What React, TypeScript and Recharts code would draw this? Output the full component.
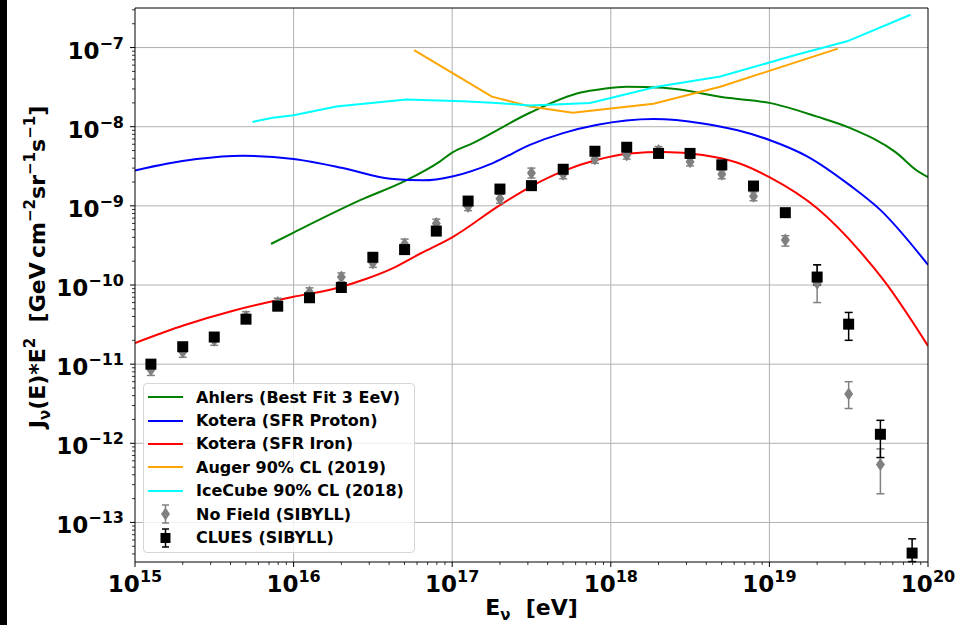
import React from "react";
import {
  ComposedChart,
  Line,
  Scatter,
  ErrorBar,
  XAxis,
  YAxis,
  ReferenceLine,
  Legend,
} from "recharts";

// ---- model curves and limits (energy in eV, J*E^2 in GeV cm^-2 sr^-1 s^-1) ----
const ahlersEnergy = [7.2e15, 1.0e16, 2.63e16, 5.13e16, 8.3e16, 1.0e17, 1.35e17, 3.09e17, 6.46e17, 8.9e17, 1.26e18, 2.14e18, 5.6e18, 1.0e19, 2.0e19, 3.24e19, 6.3e19, 8.5e19, 1.0e20];
const ahlersFlux = [3.3e-10, 4.6e-10, 1.18e-9, 2.1e-9, 3.6e-9, 4.7e-9, 6.2e-9, 1.5e-8, 2.7e-8, 3.0e-8, 3.2e-8, 3.1e-8, 2.3e-8, 2.0e-8, 1.34e-8, 9.6e-9, 4.7e-9, 2.8e-9, 2.3e-9];

const protonEnergy = [1.0e15, 1.58e15, 2.45e15, 4.8e15, 1.0e16, 2.04e16, 4.07e16, 6.6e16, 1.0e17, 1.82e17, 3.09e17, 5.0e17, 8.1e17, 1.86e18, 3.8e18, 6.3e18, 1.0e19, 1.74e19, 3.24e19, 5.0e19, 1.0e20];
const protonFlux = [2.8e-9, 3.4e-9, 3.9e-9, 4.3e-9, 3.9e-9, 3.0e-9, 2.2e-9, 2.1e-9, 2.35e-9, 3.5e-9, 5.9e-9, 8.3e-9, 1.05e-8, 1.25e-8, 1.1e-8, 9.0e-9, 6.8e-9, 4.2e-9, 1.8e-9, 8.9e-10, 1.8e-10];

const ironEnergy = [1.0e15, 2.04e15, 4.27e15, 1.0e16, 1.78e16, 2.88e16, 4.27e16, 6.3e16, 1.0e17, 2.0e17, 3.09e17, 5.0e17, 8.1e17, 1.32e18, 2.14e18, 3.8e18, 6.3e18, 1.0e19, 2.0e19, 3.7e19, 5.25e19, 1.0e20];
const ironFlux = [1.85e-11, 3.1e-11, 4.8e-11, 7.1e-11, 8.9e-11, 1.2e-10, 1.65e-10, 2.5e-10, 4.0e-10, 1.02e-9, 1.73e-9, 2.75e-9, 3.8e-9, 4.6e-9, 4.8e-9, 4.4e-9, 3.5e-9, 2.3e-9, 9.3e-10, 2.7e-10, 1.15e-10, 1.7e-11];

const augerEnergy = [5.75e16, 1.0e17, 1.78e17, 3.09e17, 5.75e17, 1.86e18, 4.9e18, 2.7e19];
const augerFlux = [9.3e-8, 4.8e-8, 2.4e-8, 1.8e-8, 1.5e-8, 1.95e-8, 3.2e-8, 9.7e-8];

const icecubeEnergy = [5.5e15, 7.4e15, 1.0e16, 1.86e16, 5.13e16, 1.17e17, 1.9e17, 3.09e17, 7.4e17, 1.95e18, 4.9e18, 1.48e19, 3.09e19, 7.76e19];
const icecubeFlux = [1.15e-8, 1.3e-8, 1.4e-8, 1.8e-8, 2.2e-8, 2.1e-8, 2.0e-8, 1.85e-8, 2.0e-8, 3.2e-8, 4.3e-8, 8.1e-8, 1.2e-7, 2.6e-7];

// ---- simulated points ----
const binEnergy = [1.26e15, 2.0e15, 3.16e15, 5.01e15, 7.94e15, 1.26e16, 2.0e16, 3.16e16, 5.01e16, 7.94e16, 1.26e17, 2.0e17, 3.16e17, 5.01e17, 7.94e17, 1.26e18, 2.0e18, 3.16e18, 5.01e18, 7.94e18, 1.26e19, 2.0e19, 3.16e19, 5.01e19, 7.94e19];

const cluesFlux = [1.0e-11, 1.66e-11, 2.2e-11, 3.7e-11, 5.4e-11, 6.9e-11, 9.3e-11, 2.24e-10, 2.8e-10, 4.8e-10, 1.15e-9, 1.63e-9, 1.8e-9, 2.9e-9, 4.9e-9, 5.5e-9, 4.6e-9, 4.6e-9, 3.3e-9, 1.78e-9, 8.2e-10, 1.26e-10, 3.2e-11, 1.3e-12, 4.1e-14];
const cluesHigh = [1.1e-11, 1.8e-11, 2.4e-11, 4.0e-11, 5.8e-11, 7.4e-11, 1.0e-10, 2.4e-10, 3.0e-10, 5.2e-10, 1.24e-9, 1.75e-9, 1.93e-9, 3.1e-9, 5.2e-9, 5.8e-9, 4.85e-9, 4.85e-9, 3.5e-9, 1.9e-9, 8.9e-10, 1.8e-10, 4.5e-11, 1.95e-12, 6.2e-14];
const cluesLow = [0.92e-11, 1.54e-11, 2.05e-11, 3.45e-11, 5.0e-11, 6.4e-11, 8.6e-11, 2.08e-10, 2.6e-10, 4.45e-10, 1.07e-9, 1.52e-9, 1.68e-9, 2.7e-9, 4.6e-9, 5.2e-9, 4.35e-9, 4.35e-9, 3.1e-9, 1.66e-9, 7.6e-10, 1.0e-10, 2.0e-11, 6.6e-13, 3.2e-14];

const noFieldFlux = [8.5e-12, 1.42e-11, 2.0e-11, 4.0e-11, 6.0e-11, 8.1e-11, 1.26e-10, 1.9e-10, 3.3e-10, 6.0e-10, 9.8e-10, 1.23e-9, 2.6e-9, 2.5e-9, 3.9e-9, 4.4e-9, 5.0e-9, 3.6e-9, 2.5e-9, 1.32e-9, 3.7e-10, 1.05e-10, 4.2e-12, 5.4e-13];
const noFieldHigh = [1.0e-11, 1.65e-11, 2.3e-11, 4.6e-11, 6.8e-11, 9.2e-11, 1.42e-10, 2.15e-10, 3.8e-10, 6.8e-10, 1.1e-9, 1.4e-9, 3.0e-9, 2.85e-9, 4.4e-9, 4.9e-9, 5.6e-9, 4.0e-9, 2.8e-9, 1.5e-9, 4.2e-10, 1.8e-10, 6.0e-12, 8.5e-13];
const noFieldLow = [0.72e-11, 1.22e-11, 1.73e-11, 3.5e-11, 5.3e-11, 7.1e-11, 1.1e-10, 1.67e-10, 2.9e-10, 5.3e-10, 8.7e-10, 1.08e-9, 2.25e-9, 2.2e-9, 3.45e-9, 3.9e-9, 4.45e-9, 3.2e-9, 2.2e-9, 1.16e-9, 3.1e-10, 6.0e-11, 2.75e-12, 2.3e-13];

// ---- axes ----
const xDecades = [15, 16, 17, 18, 19, 20];
const yDecades = [-13, -12, -11, -10, -9, -8, -7];
const X_DOMAIN = [1e15, 1e20];
const Y_DOMAIN = [10 ** -13.5, 10 ** -6.5];

const logTicks = (lo: number, hi: number) => {
  const out: number[] = [];
  for (let d = Math.floor(Math.log10(lo)); d <= Math.ceil(Math.log10(hi)); d++) {
    for (let m = 1; m < 10; m++) {
      const v = m * 10 ** d;
      if (v >= lo * 0.9999 && v <= hi * 1.0001) out.push(v);
    }
  }
  return out;
};
const xTicks = logTicks(X_DOMAIN[0], X_DOMAIN[1]);
const yTicks = logTicks(Y_DOMAIN[0], Y_DOMAIN[1]);

const toCurve = (es: number[], fs: number[]) => es.map((x, i) => ({ x, y: fs[i] }));
const toPoints = (vals: number[], lo: number[], hi: number[]) =>
  vals.map((y, i) => ({ x: binEnergy[i], y, err: [y - lo[i], hi[i] - y] }));

const cluesData = toPoints(cluesFlux, cluesLow, cluesHigh);
const noFieldData = toPoints(noFieldFlux, noFieldLow, noFieldHigh);

const FONT = "'DejaVu Sans', sans-serif";
const tickFont = { fontFamily: FONT, fontWeight: 700, fontSize: 23, fill: "#000" };

const isMajor = (v: number) => {
  const e = Math.round(Math.log10(v));
  return { e, major: Math.abs(v / 10 ** e - 1) < 1e-6 };
};

const XTick = ({ x, y, payload }: any) => {
  const { e, major } = isMajor(payload.value);
  return (
    <g>
      <line x1={x} x2={x} y1={y} y2={y + (major ? 5 : 3)} stroke="#000" strokeWidth={major ? 1 : 0.8} />
      {major && (
        <text x={x} y={y + 30} textAnchor="middle" style={tickFont}>
          10<tspan dy={-10} fontSize={16}>{e}</tspan>
        </text>
      )}
    </g>
  );
};

const YTick = ({ x, y, payload }: any) => {
  const { e, major } = isMajor(payload.value);
  return (
    <g>
      <line x1={x - (major ? 5 : 3)} x2={x} y1={y} y2={y} stroke="#000" strokeWidth={major ? 1 : 0.8} />
      {major && (
        <text x={x - 11} y={y + 11} textAnchor="end" style={tickFont}>
          10<tspan dy={-10} fontSize={16}>{"\u2212" + Math.abs(e)}</tspan>
        </text>
      )}
    </g>
  );
};

const YTitle = () => (
  <text transform="translate(45, 267) rotate(-90)" textAnchor="middle" style={{ ...tickFont, fontSize: 22 }}>
    J<tspan dy={5} fontSize={15}>ν</tspan>
    <tspan dy={-5}>(E)*E</tspan>
    <tspan dy={-10} fontSize={15}>2</tspan>
    <tspan dy={10}>{"\u00a0\u00a0[GeV\u2009cm"}</tspan>
    <tspan dy={-10} fontSize={15}>−2</tspan>
    <tspan dy={10}>sr</tspan>
    <tspan dy={-10} fontSize={15}>−1</tspan>
    <tspan dy={10}>s</tspan>
    <tspan dy={-10} fontSize={15}>−1</tspan>
    <tspan dy={10}>]</tspan>
  </text>
);

const XTitle = () => (
  <text x={531.5} y={615} textAnchor="middle" style={{ ...tickFont, fontSize: 22 }}>
    E<tspan dy={5} fontSize={15}>ν</tspan>
    <tspan dy={-5}>{"\u00a0\u00a0[eV]"}</tspan>
  </text>
);

const squareShape = (p: any) => <rect x={p.cx - 5.5} y={p.cy - 5.5} width={11} height={11} fill="#000" />;
const diamondShape = (p: any) => (
  <path d={`M${p.cx},${p.cy - 6.5}L${p.cx + 4.5},${p.cy}L${p.cx},${p.cy + 6.5}L${p.cx - 4.5},${p.cy}Z`} fill="#808080" />
);

const curves = [
  { name: "Ahlers (Best Fit 3 EeV)", color: "#008000", data: toCurve(ahlersEnergy, ahlersFlux), type: "monotone" },
  { name: "Kotera (SFR Proton)", color: "#0000ff", data: toCurve(protonEnergy, protonFlux), type: "monotone" },
  { name: "Kotera (SFR Iron)", color: "#ff0000", data: toCurve(ironEnergy, ironFlux), type: "monotone" },
  { name: "Auger 90% CL (2019)", color: "#ffa500", data: toCurve(augerEnergy, augerFlux), type: "linear" },
  { name: "IceCube 90% CL (2018)", color: "#00ffff", data: toCurve(icecubeEnergy, icecubeFlux), type: "linear" },
];

const LegendBox = () => (
  <div
    style={{
      width: 272,
      height: 170,
      boxSizing: "border-box",
      background: "rgba(255,255,255,0.8)",
      border: "1px solid #d6d6d6",
      borderRadius: 4,
      paddingTop: 1.5,
      fontFamily: FONT,
      fontWeight: 700,
      fontSize: 16,
      color: "#000",
    }}
  >
    {curves.map((c) => (
      <div key={c.name} style={{ display: "flex", alignItems: "center", height: 23.4 }}>
        <svg width={52} height={20} style={{ flex: "none" }}>
          <line x1={4} x2={39} y1={10} y2={10} stroke={c.color} strokeWidth={2} />
        </svg>
        <span style={{ whiteSpace: "nowrap" }}>{c.name}</span>
      </div>
    ))}
    <div style={{ display: "flex", alignItems: "center", height: 23.4 }}>
      <svg width={52} height={22} style={{ flex: "none" }}>
        <line x1={21.5} x2={21.5} y1={2} y2={20} stroke="#808080" strokeWidth={1.5} />
        <line x1={18} x2={25} y1={2} y2={2} stroke="#808080" strokeWidth={1.5} />
        <line x1={18} x2={25} y1={20} y2={20} stroke="#808080" strokeWidth={1.5} />
        <path d="M21.5,4.5L26,11L21.5,17.5L17,11Z" fill="#808080" />
      </svg>
      <span>No Field (SIBYLL)</span>
    </div>
    <div style={{ display: "flex", alignItems: "center", height: 23.4 }}>
      <svg width={52} height={22} style={{ flex: "none" }}>
        <line x1={21.5} x2={21.5} y1={2} y2={20} stroke="#000" strokeWidth={1.5} />
        <line x1={18} x2={25} y1={2} y2={2} stroke="#000" strokeWidth={1.5} />
        <line x1={18} x2={25} y1={20} y2={20} stroke="#000" strokeWidth={1.5} />
        <rect x={16.5} y={6} width={10} height={10} fill="#000" />
      </svg>
      <span>CLUES (SIBYLL)</span>
    </div>
  </div>
);

export default function App() {
  return (
    <div style={{ position: "absolute", left: 0, top: 0, width: 964, height: 625, background: "#fff" }}>
      <div style={{ position: "absolute", left: 0, top: 0, width: 7, height: 625, background: "#000" }} />
      <ComposedChart width={964} height={625} margin={{ top: 8, right: 36, bottom: 0, left: 0 }}>
        <XAxis
          dataKey="x"
          type="number"
          scale="log"
          domain={X_DOMAIN}
          allowDataOverflow
          ticks={xTicks}
          interval={0}
          tickSize={0}
          tickMargin={0}
          tickLine={false}
          tick={<XTick />}
          height={63}
          axisLine={{ stroke: "#000", strokeWidth: 1 }}
          label={<XTitle />}
        />
        <YAxis
          type="number"
          scale="log"
          domain={Y_DOMAIN}
          allowDataOverflow
          ticks={yTicks}
          interval={0}
          tickSize={0}
          tickMargin={0}
          tickLine={false}
          tick={<YTick />}
          width={135}
          axisLine={{ stroke: "#000", strokeWidth: 1 }}
          label={<YTitle />}
        />
        {xDecades.slice(1, -1).map((d) => (
          <ReferenceLine key={`gx${d}`} x={10 ** d} stroke="#b0b0b0" strokeWidth={1} />
        ))}
        {yDecades.map((d) => (
          <ReferenceLine key={`gy${d}`} y={10 ** d} stroke="#b0b0b0" strokeWidth={1} />
        ))}
        {curves.map((c) => (
          <Line
            key={c.name}
            data={c.data}
            dataKey="y"
            type={c.type as any}
            stroke={c.color}
            strokeWidth={2}
            dot={false}
            activeDot={false}
            isAnimationActive={false}
            legendType="line"
          />
        ))}
        <Scatter data={noFieldData} dataKey="y" shape={diamondShape} isAnimationActive={false}>
          <ErrorBar dataKey="err" direction="y" width={4} stroke="#808080" strokeWidth={1.5} />
        </Scatter>
        <Scatter data={cluesData} dataKey="y" shape={squareShape} isAnimationActive={false}>
          <ErrorBar dataKey="err" direction="y" width={4} stroke="#000" strokeWidth={1.5} />
        </Scatter>
        <ReferenceLine y={Y_DOMAIN[1]} stroke="#000" strokeWidth={1} />
        <ReferenceLine x={X_DOMAIN[1]} stroke="#000" strokeWidth={1} />
        <Legend
          layout="vertical"
          align="center"
          verticalAlign="middle"
          content={<LegendBox />}
          wrapperStyle={{ left: 143, top: 383, width: 272, height: 170 }}
        />
      </ComposedChart>
    </div>
  );
}
